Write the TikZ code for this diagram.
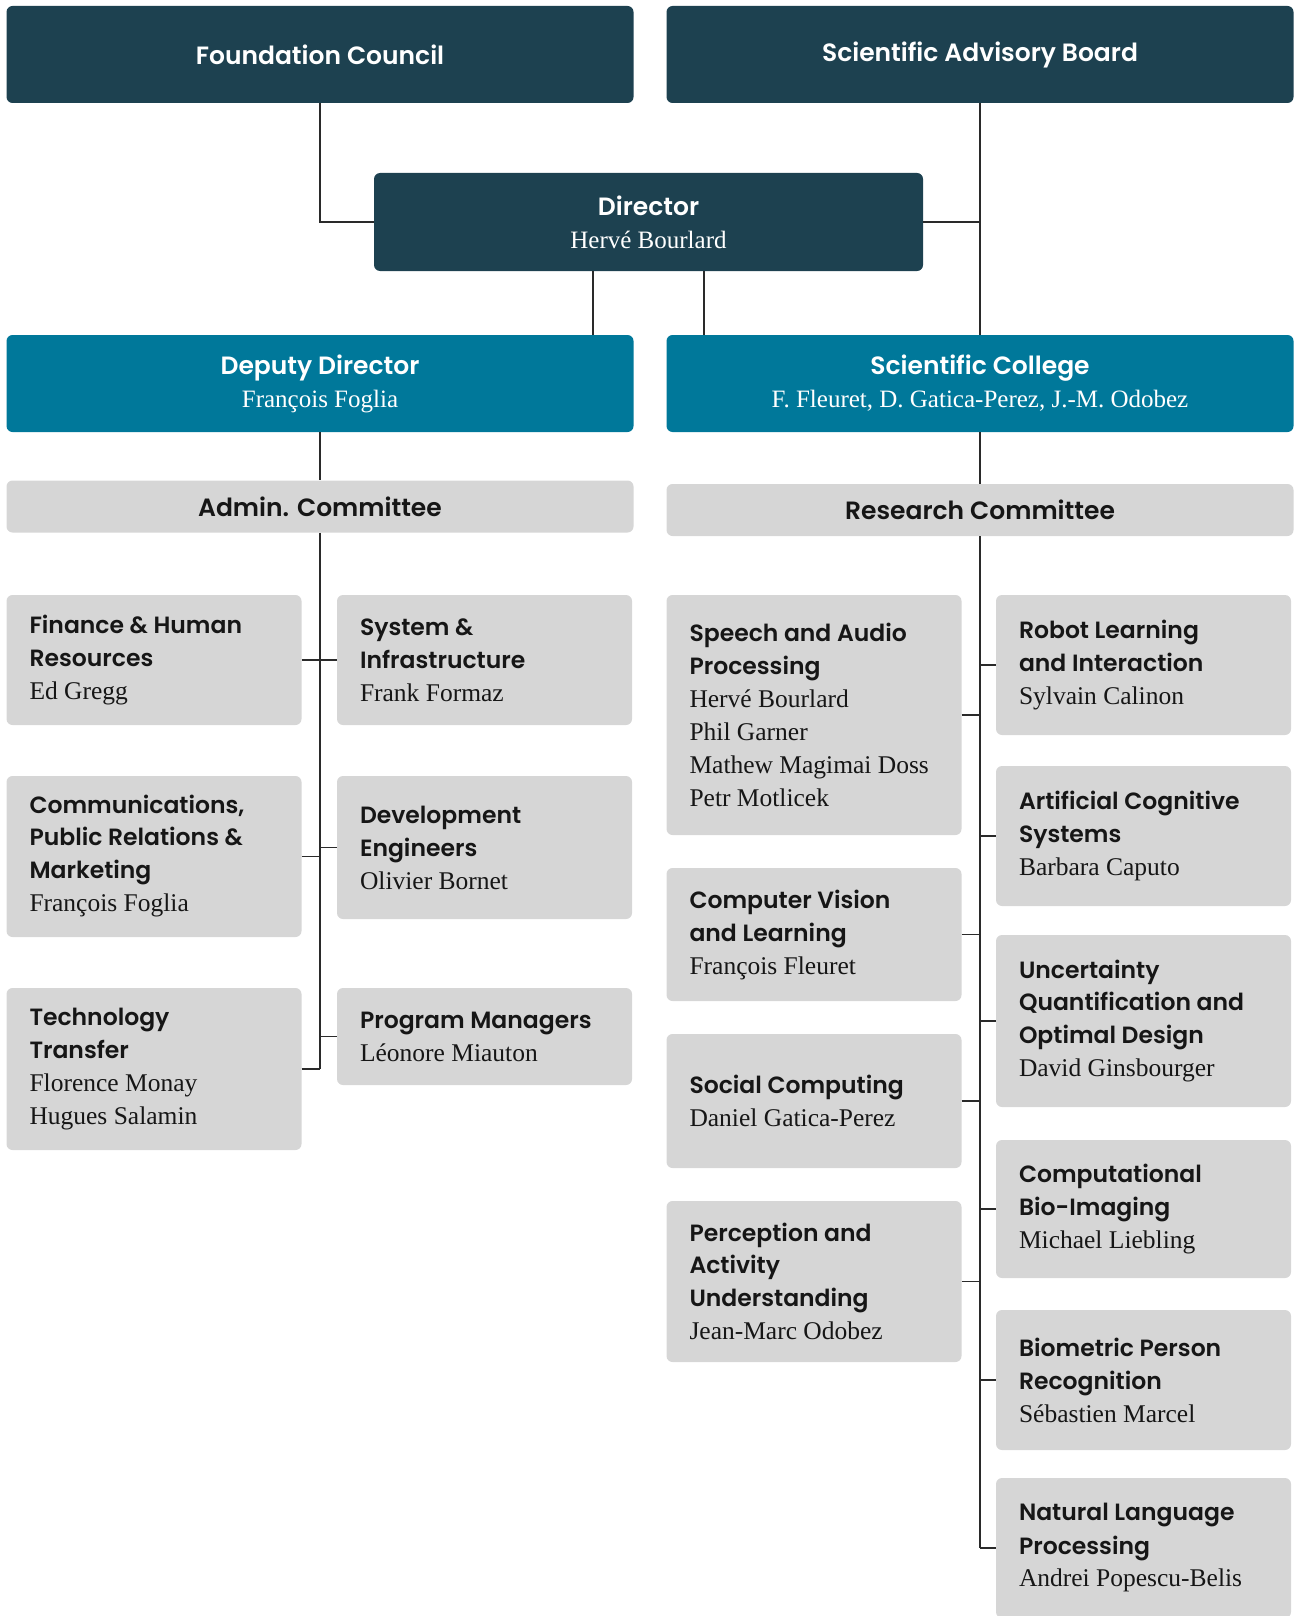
\documentclass[tikz,border=0pt]{standalone}
\usepackage{fontspec}
\setmainfont{Liberation Serif}
\newfontfamily\hd{Poppins}[BoldFont={Poppins SemiBold}]
\usepackage{xcolor}
\definecolor{navy}{HTML}{1D4150}
\definecolor{teal}{HTML}{00789A}
\definecolor{panel}{HTML}{D6D6D6}
\definecolor{ink}{HTML}{161616}
\definecolor{wire}{HTML}{2A2A2A}

\newcommand{\hdr}[1]{{\hd\bfseries #1}}
\newcommand{\ttl}[1]{{\hd\bfseries\fontsize{23.5}{32}\selectfont #1}}

\begin{document}
\begin{tikzpicture}[x=1pt,y=-1pt,
	box/.style={rounded corners=6pt,inner sep=0pt,align=center,
		font=\fontsize{25}{33}\selectfont},
	top/.style={box,fill=navy,text=white,minimum width=627pt,minimum height=97pt},
	mid/.style={box,fill=teal,text=white,minimum width=627pt,minimum height=97pt},
	cte/.style={box,fill=panel,text=ink,minimum width=627pt,minimum height=52pt},
	unit/.style={rounded corners=6pt,fill=panel,text=ink,align=flush left,
		inner xsep=23pt,inner ysep=0pt,text width=249pt,
		font=\fontsize{25.5}{33}\selectfont},
	link/.style={draw=wire,line width=1.4pt}]
	\useasboundingbox (0,0) rectangle (1295,1616);

	\node[top] (fc)  at (320,54.5) {\hdr{Foundation Council}};
	\node[top] (sab) at (980,54.5) {\hdr{Scientific Advisory Board}};
	\node[top,minimum width=549pt,minimum height=98pt] (dir) at (648.5,222)
		{\hdr{Director}\\Hervé Bourlard};
	\node[mid] (dd) at (320,383.5) {\hdr{Deputy Director}\\François Foglia};
	\node[mid] (sc) at (980,383.5)
		{\hdr{Scientific College}\\F. Fleuret, D. Gatica-Perez, J.-M. Odobez};
	\node[cte] (adm) at (320,506.5) {\hdr{Admin. Committee}};
	\node[cte] (rc)  at (980,510) {\hdr{Research Committee}};

	% top of the tree
	\draw[link] (fc.south) |- (dir.west);
	\draw[link] (sab.south) -- (sc.north);
	\draw[link] (dir.east) -- (dir.east -| sab.south);
	\draw[link] ([xshift=-55.5pt]dir.south) -- ([xshift=-55.5pt]dir.south |- dd.north);
	\draw[link] ([xshift=55.5pt]dir.south) -- ([xshift=55.5pt]dir.south |- sc.north);
	\draw[link] (dd.south) -- (adm.north);
	\draw[link] (sc.south) -- (rc.north);

	% admin units, left of the trunk
	\foreach \n/\y/\h/\t in {
			fin/660/130/{\ttl{Finance \& Human\\Resources}\\Ed Gregg},
			com/856.5/161/{\ttl{Communications,\\Public Relations \&\\Marketing}\\François Foglia},
			tt/1069/162/{\ttl{Technology\\Transfer}\\Florence Monay\\Hugues Salamin}
			} {
		\node[unit,minimum height=\h pt] (\n) at (154,\y) {\t};
		\draw[link] (\n.east) -- (\n.east -| adm.south);
	};
	% admin units, right of the trunk
	\foreach \n/\y/\h/\t in {
			sys/660/130/{\ttl{System \&\\Infrastructure}\\Frank Formaz},
			dev/847.5/143/{\ttl{Development\\Engineers}\\Olivier Bornet},
			pm/1036.5/97/{\ttl{Program Managers}\\Léonore Miauton}
			} {
		\node[unit,minimum height=\h pt] (\n) at (484.5,\y) {\t};
		\draw[link] (\n.west) -- (\n.west -| adm.south);
	};
	\draw[link] (adm.south) -- (adm.south |- tt.east);

	% research groups, left of the trunk
	\foreach \n/\y/\h/\t in {
			sap/715/240/{\ttl{Speech and Audio\\Processing}\\Hervé Bourlard\\Phil Garner\\Mathew Magimai Doss\\Petr Motlicek},
			cvl/934.5/133/{\ttl{Computer Vision\\and Learning}\\François Fleuret},
			soc/1101/134/{\ttl{Social Computing}\\Daniel Gatica-Perez},
			pau/1281.5/161/{\ttl{Perception and\\Activity\\Understanding}\\Jean-Marc Odobez}
			} {
		\node[unit,minimum height=\h pt] (\n) at (814,\y) {\t};
		\draw[link] (\n.east) -- (\n.east -| rc.south);
	};
	% research groups, right of the trunk
	\foreach \n/\y/\h/\t in {
			rli/665/140/{\ttl{Robot Learning\\and Interaction}\\Sylvain Calinon},
			acs/836/140/{\ttl{Artificial Cognitive\\Systems}\\Barbara Caputo},
			uqod/1021/172/{\ttl{Uncertainty\\Quantification and\\Optimal Design}\\David Ginsbourger},
			cbi/1209/138/{\ttl{Computational\\Bio-Imaging}\\Michael Liebling},
			bpr/1380/140/{\ttl{Biometric Person\\Recognition}\\Sébastien Marcel},
			nlp/1548/140/{\ttl{Natural Language\\Processing}\\Andrei Popescu-Belis}
			} {
		\node[unit,minimum height=\h pt] (\n) at (1143.5,\y) {\t};
		\draw[link] (\n.west) -- (\n.west -| rc.south);
	};
	\draw[link] (rc.south) -- (rc.south |- nlp.west);
\end{tikzpicture}
\end{document}
